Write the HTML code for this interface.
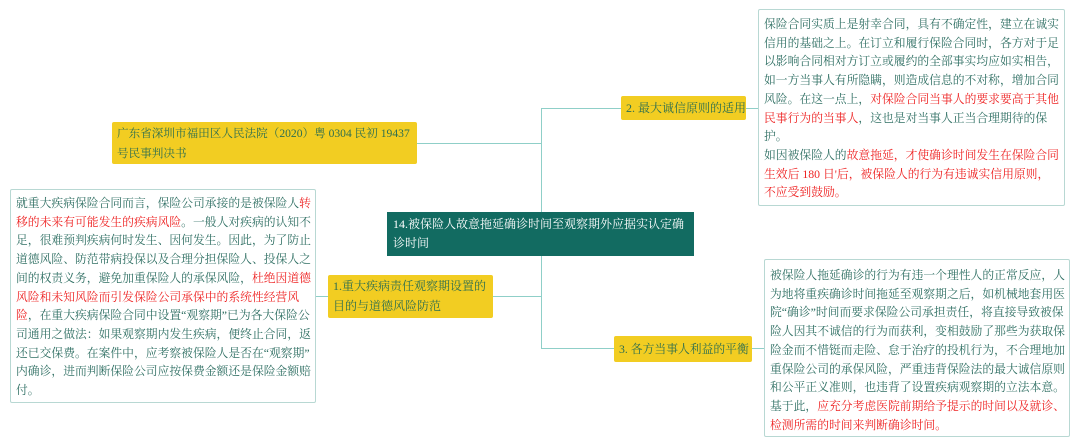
<!DOCTYPE html>
<html><head><meta charset="utf-8"><style>
body{margin:0;width:1080px;height:447px;background:#fff;position:relative;overflow:hidden;font-family:"Liberation Serif","Noto Serif CJK SC",serif;}
.b{position:absolute;box-sizing:border-box;}
.t{border:1px solid #b8d8d3;border-radius:2px;color:#2f6f63;font-size:11.8px;line-height:18.7px;padding:4px 5px;white-space:nowrap;letter-spacing:0;}
.r{color:#ee2222;}
.y{background:#f2cd22;color:#2f6f4f;font-size:12px;line-height:20px;padding:2px 5px;border-radius:2px;white-space:nowrap;}
.l{position:absolute;background:#8fcfc8;}
</style></head><body>
<div class="l" style="left:541px;top:108px;width:1px;height:240px"></div>
<div class="l" style="left:541px;top:108px;width:80px;height:1px"></div>
<div class="l" style="left:417px;top:143px;width:124px;height:1px"></div>
<div class="l" style="left:493px;top:296px;width:48px;height:1px"></div>
<div class="l" style="left:541px;top:348px;width:73px;height:1px"></div>
<div class="l" style="left:316px;top:296px;width:12px;height:1px"></div>
<div class="l" style="left:746px;top:108px;width:12px;height:1px"></div>
<div class="l" style="left:752px;top:348px;width:12px;height:1px"></div>

<div class="b" style="left:387px;top:212px;width:307px;height:44px;background:#126b61;color:#fff;font-size:12px;line-height:19px;padding:3px 6px;white-space:nowrap;">14.被保险人故意拖延确诊时间至观察期外应据实认定确<br>诊时间</div>
<div class="b y" style="left:621px;top:96px;width:125px;height:24px;">2. 最大诚信原则的适用</div>
<div class="b y" style="left:614px;top:336px;width:138px;height:26px;padding-top:3px;font-size:11.8px">3. 各方当事人利益的平衡</div>
<div class="b y" style="left:328px;top:275px;width:165px;height:43px;padding-top:1px">1.重大疾病责任观察期设置的<br>目的与道德风险防范</div>
<div class="b y" style="left:112px;top:122px;width:305px;height:42px;font-size:11.6px">广东省深圳市福田区人民法院（2020）粤 0304 民初 19437<br>号民事判决书</div>

<div class="b t" style="left:10px;top:189px;width:306px;height:214px;">就重大疾病保险合同而言，保险公司承接的是被保险人<span class="r">转</span><br><span class="r">移的未来有可能发生的疾病风险</span>。一般人对疾病的认知不<br>足，很难预判疾病何时发生、因何发生。因此，为了防止<br>道德风险、防范带病投保以及合理分担保险人、投保人之<br>间的权责义务，避免加重保险人的承保风险，<span class="r">杜绝因道德</span><br><span class="r">风险和未知风险而引发保险公司承保中的系统性经营风</span><br><span class="r">险</span>，在重大疾病保险合同中设置“观察期”已为各大保险公<br>司通用之做法：如果观察期内发生疾病，便终止合同，返<br>还已交保费。在案件中，应考察被保险人是否在“观察期”<br>内确诊，进而判断保险公司应按保费金额还是保险金额赔<br>付。</div>

<div class="b t" style="left:758px;top:9px;width:307px;height:197px;padding-top:5px">保险合同实质上是射幸合同，具有不确定性，建立在诚实<br>信用的基础之上。在订立和履行保险合同时，各方对于足<br>以影响合同相对方订立或履约的全部事实均应如实相告，<br>如一方当事人有所隐瞒，则造成信息的不对称，增加合同<br>风险。在这一点上，<span class="r">对保险合同当事人的要求要高于其他</span><br><span class="r">民事行为的当事人</span>，这也是对当事人正当合理期待的保<br>护。<br>如因被保险人的<span class="r">故意拖延，才使确诊时间发生在保险合同</span><br><span class="r">生效后 180 日'后，被保险人的行为有违诚实信用原则，</span><br><span class="r">不应受到鼓励。</span></div>

<div class="b t" style="left:764px;top:259px;width:306px;height:178px;padding-top:6px">被保险人拖延确诊的行为有违一个理性人的正常反应，人<br>为地将重疾确诊时间拖延至观察期之后，如机械地套用医<br>院“确诊”时间而要求保险公司承担责任，将直接导致被保<br>险人因其不诚信的行为而获利，变相鼓励了那些为获取保<br>险金而不惜铤而走险、怠于治疗的投机行为，不合理地加<br>重保险公司的承保风险，严重违背保险法的最大诚信原则<br>和公平正义准则，也违背了设置疾病观察期的立法本意。<br>基于此，<span class="r">应充分考虑医院前期给予提示的时间以及就诊、</span><br><span class="r">检测所需的时间来判断确诊时间。</span></div>
</body></html>
